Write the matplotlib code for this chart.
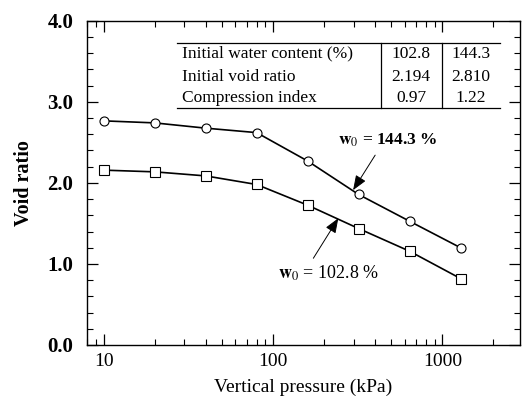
import matplotlib
matplotlib.use("Agg")
import matplotlib.pyplot as plt

pressure = [10, 20, 40, 80, 160, 320, 640, 1280]
void_144 = [2.765, 2.74, 2.675, 2.62, 2.27, 1.857, 1.527, 1.20]
void_102 = [2.157, 2.136, 2.086, 1.98, 1.725, 1.437, 1.157, 0.82]

table_rows = ["Initial water content (%)", "Initial void ratio", "Compression index"]
table_102 = ["102.8", "2.194", "0.97"]
table_144 = ["144.3", "2.810", "1.22"]

plt.rcParams['font.family'] = ['Liberation Serif', 'DejaVu Serif']
plt.rcParams['mathtext.fontset'] = 'stix'

fig = plt.figure(figsize=(5.22, 4.15), dpi=100)
ax = fig.add_axes([0.1672, 0.1687, 0.8288, 0.7813])

ax.plot(pressure, void_144, color='black', lw=1.2, marker='o', ms=6.5,
        mfc='white', mec='black', mew=0.8, zorder=3)
ax.plot(pressure, void_102, color='black', lw=1.2, marker='s', ms=6.5,
        mfc='white', mec='black', mew=0.8, zorder=3)

ax.set_xscale('log')
ax.set_xlim(8, 2870)
ax.set_ylim(0, 4.0)
ax.set_yticks([0, 1, 2, 3, 4])
ax.set_yticklabels(['0.0', '1.0', '2.0', '3.0', '4.0'], fontsize=15, fontweight='bold')
ax.set_yticks([0.2 * i for i in range(21)], minor=True)
ax.set_xticks([10, 100, 1000])
ax.set_xticklabels(['10', '100', '1000'], fontsize=14)
ax.tick_params(which='both', direction='in', top=True, right=True)
ax.tick_params(which='major', length=8, width=0.9, pad=6)
ax.tick_params(which='minor', length=4.5, width=0.8)
ax.tick_params(axis='y', which='major', pad=10)
for s in ax.spines.values():
    s.set_linewidth(1.0)

ax.set_xlabel('Vertical pressure (kPa)', fontsize=14, labelpad=6)
ax.set_ylabel('Void ratio', fontsize=14.5, fontweight='bold', labelpad=10)

# Table
tx0, tx1 = 0.207, 0.954
ty_top, ty_bot = 0.931, 0.731
d1, d2 = 0.678, 0.819
ax.plot([tx0, tx1], [ty_top, ty_top], transform=ax.transAxes, color='black', lw=0.9)
ax.plot([tx0, tx1], [ty_bot, ty_bot], transform=ax.transAxes, color='black', lw=0.9)
for d in (d1, d2):
    ax.plot([d, d], [ty_bot, ty_top], transform=ax.transAxes, color='black', lw=0.9)
row_y = [0.898, 0.828, 0.761]
for lab, a, b, y in zip(table_rows, table_102, table_144, row_y):
    ax.text(0.219, y, lab, transform=ax.transAxes, fontsize=12.5, va='center', ha='left')
    ax.text((d1 + d2) / 2, y, a, transform=ax.transAxes, fontsize=12.5, va='center', ha='center')
    ax.text((d2 + tx1) / 2, y, b, transform=ax.transAxes, fontsize=12.5, va='center', ha='center')

# Annotations
ax.annotate('', xy=(297, 1.91), xytext=(401, 2.342),
            arrowprops=dict(arrowstyle='-|>,head_length=0.9,head_width=0.35',
                            color='black', lw=0.7, shrinkA=0, shrinkB=0))
ax.text(478, 2.527, r'$\mathbf{w}_0$ = 144.3 %', fontsize=12.5, fontweight='bold',
        ha='center', va='center')
ax.annotate('', xy=(243, 1.564), xytext=(173, 1.07),
            arrowprops=dict(arrowstyle='-|>,head_length=0.9,head_width=0.35',
                            color='black', lw=0.7, shrinkA=0, shrinkB=0))
ax.text(212, 0.885, r'$\mathbf{w}_0$ = 102.8 %', fontsize=13,
        ha='center', va='center')

fig.savefig('out.png', dpi=100)
